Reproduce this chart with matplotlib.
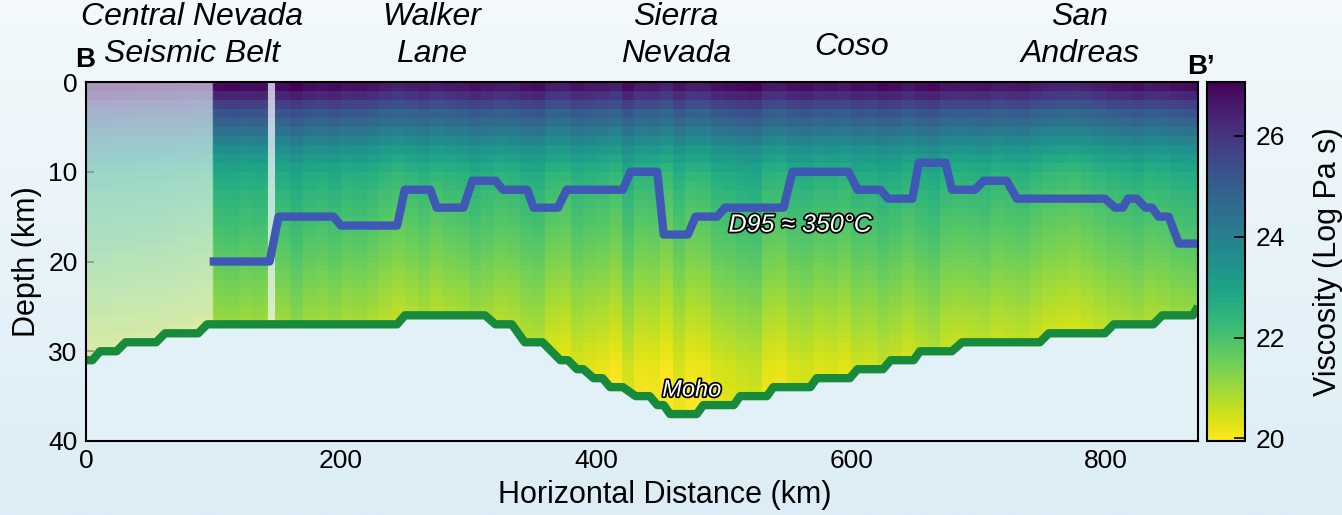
import numpy as np
import matplotlib
matplotlib.use('Agg')
import matplotlib.pyplot as plt
import matplotlib.patheffects as pe
from matplotlib.colors import LinearSegmentedColormap

plt.rcParams['font.family'] = ['Liberation Sans', 'DejaVu Sans']

# viscosity profile with depth (log Pa s), one value per 1 km row
visc_profile = [26.75, 26.2, 25.6, 25.1, 24.7, 24.25, 23.85, 23.45, 23.1, 22.8,
                22.6, 22.45, 22.3, 22.2, 22.1, 22.0, 21.9, 21.8, 21.7, 21.6,
                21.5, 21.4, 21.3, 21.2, 21.1, 21.0, 20.9, 20.8, 20.7, 20.6,
                20.5, 20.4, 20.35, 20.3, 20.25, 20.2, 20.15, 20.1, 20.1, 20.1]
# per-column shift (10 km columns), read from the vertical striping
col_off = [0.15, 0.15, 0.1, 0.1, 0.05, 0.05, 0.0, -0.05, -0.1, -0.15,
           0.15, 0.2, 0.1, 0.15, 0.05,
           0.1, 0.3, 0.1, 0.05, 0.15,
           0.0, 0.05, -0.05, -0.2, -0.3,
           -0.2, -0.1, -0.25, -0.15, -0.1,
           0.05, -0.05, -0.15, -0.1, 0.05,
           0.1, -0.2, -0.25, 0.0, -0.1,
           -0.15, -0.3, 0.1, -0.2, -0.15,
           -0.35, 0.0, -0.25, -0.2, 0.05,
           0.1, 0.2, 0.25, -0.1, -0.15,
           0.05, 0.1, -0.05, 0.0, -0.1,
           0.1, 0.05, 0.2, 0.1, -0.05,
           0.1, 0.2, -0.05, -0.1, -0.05,
           0.0, -0.15, -0.1, -0.05, -0.2,
           -0.3, -0.35, -0.4, -0.3, -0.2,
           -0.1, -0.05, 0.05, -0.1, -0.05,
           0.05, 0.1, 0.15]

# D95 (~350 C) depth line
d95_x = [97, 144, 151, 194, 200, 244, 250, 270, 275, 296, 303, 321, 327, 346, 351, 370,
         377, 421, 427, 448, 453, 472, 478, 495, 501, 547, 554, 598, 605, 623, 629, 648,
         653, 674, 679, 697, 704, 722, 730, 799, 807, 813, 817, 824, 831, 836, 841, 849,
         857, 872]
d95_z = [20, 20, 15, 15, 16, 16, 12, 12, 14, 14, 11, 11, 12, 12, 14, 14,
         12, 12, 10, 10, 17, 17, 15, 15, 14, 14, 10, 10, 12, 12, 13, 13,
         9, 9, 12, 12, 11, 11, 13, 13, 14, 14, 13, 13, 14, 14, 15, 15,
         18, 18]

# Moho depth
moho_x = [0, 5, 11, 24, 31, 55, 62, 88, 95, 244, 250, 313, 321, 334, 344, 358, 372, 378,
          385, 390, 398, 405, 411, 421, 431, 442, 448, 453, 458, 479, 484, 508, 513, 534,
          539, 568, 573, 599, 605, 625, 631, 649, 654, 679, 687, 748, 755, 799, 806, 837,
          844, 868, 872]
moho_z = [31, 31, 30, 30, 29, 29, 28, 28, 27, 27, 26, 26, 27, 27, 29, 29, 31, 31,
          32, 32, 33, 33, 34, 34, 35, 35, 36, 36, 37, 37, 36, 36, 35, 35,
          34, 34, 33, 33, 32, 32, 31, 31, 30, 30, 29, 29, 28, 28, 27, 27,
          26, 26, 25]

region_top = ['Central Nevada', 'Walker', 'Sierra', '', 'San']
region_bot = ['Seismic Belt', 'Lane', 'Nevada', '', 'Andreas']
region_x = [192, 432, 676, 852, 1080]

bg = '#e2f1f8'
W, H = 1342, 515
fig = plt.figure(figsize=(W / 100, H / 100), dpi=100)

# light gradient background
axbg = fig.add_axes([0, 0, 1, 1], zorder=-5)
grad = np.linspace(0, 1, 256)[:, None]
bgcm = LinearSegmentedColormap.from_list('bg', ['#f3f9fc', '#dcedf6'])
axbg.imshow(grad, aspect='auto', cmap=bgcm, extent=[0, 1, 0, 1])
axbg.axis('off')

ax = fig.add_axes([86 / W, 1 - 441 / H, (1198 - 86) / W, (441 - 82) / H])
ax.set_facecolor(bg)

Z = np.array(visc_profile)[:, None] + np.array(col_off)[None, :]
xe = np.arange(0, 10 * len(col_off) + 1, 10)
ze = np.arange(0, len(visc_profile) + 1)
mesh = ax.pcolormesh(xe, ze, Z, cmap='viridis_r', vmin=19.95, vmax=27.07, shading='flat', zorder=1)

# mask below Moho
ax.fill_between(moho_x, moho_z, 41, color=bg, lw=0, zorder=2)
# faded western part and thin gap
mx = np.array(moho_x); mz = np.array(moho_z)
sel = mx <= 99
fx = list(mx[sel]) + [99]
fz = list(mz[sel]) + [27]
ax.fill_between(fx, 0, fz, color='#eef4f8', alpha=0.6, lw=0, zorder=3)
ax.fill_between([143, 148], 0, 27, color='#eef2f8', alpha=0.75, lw=0, zorder=3)

ax.plot(moho_x, moho_z, color='#178a3b', lw=6, solid_capstyle='butt', zorder=4)
ax.plot(d95_x, d95_z, color='#3f57b5', lw=6, solid_capstyle='butt', zorder=4)

stroke = [pe.withStroke(linewidth=2.5, foreground='black')]
ax.text(560, 15.9, 'D95 ≈ 350°C', color='white', fontsize=18, style='italic',
        ha='center', va='center', path_effects=stroke, zorder=5)
ax.text(475, 34.3, 'Moho', color='white', fontsize=17, style='italic',
        ha='center', va='center', path_effects=stroke, zorder=5)

ax.set_xlim(0, 872)
ax.set_ylim(40, 0)
ax.set_xticks([0, 200, 400, 600, 800])
ax.set_yticks([0, 10, 20, 30, 40])
ax.tick_params(direction='in', length=6, width=1.2, labelsize=19, pad=6)
for s in ax.spines.values():
    s.set_linewidth(1.5)
    s.set_zorder(6)

cax = fig.add_axes([1207 / W, 1 - 441 / H, 38 / W, (441 - 82) / H])
cb = fig.colorbar(mesh, cax=cax)
cb.set_ticks([20, 22, 24, 26])
cb.ax.tick_params(direction='in', length=8, width=1.2, labelsize=19, pad=8)
cb.outline.set_linewidth(1.5)

fig.text(0.020, 0.492, 'Depth (km)', rotation=90, fontsize=22, ha='center', va='center')
fig.text(0.4955, 0.039, 'Horizontal Distance (km)', fontsize=22, ha='center', va='center')
fig.text(1328 / W, 0.492, 'Viscosity (Log Pa s)', rotation=90, fontsize=22, ha='center', va='center')

for t1, t2, px in zip(region_top, region_bot, region_x):
    if t1:
        fig.text(px / W, 1 - 17 / H, t1, fontsize=23, style='italic', ha='center', va='center')
        fig.text(px / W, 1 - 54 / H, t2, fontsize=23, style='italic', ha='center', va='center')
    else:
        fig.text(px / W, 1 - 47 / H, 'Coso', fontsize=23, style='italic', ha='center', va='center')

fig.text(75 / W, 1 - 60 / H, 'B', fontsize=20, weight='bold', ha='left', va='center')
fig.text(1187 / W, 1 - 67 / H, 'B’', fontsize=20, weight='bold', ha='left', va='center')

fig.savefig('out.png', dpi=100)
